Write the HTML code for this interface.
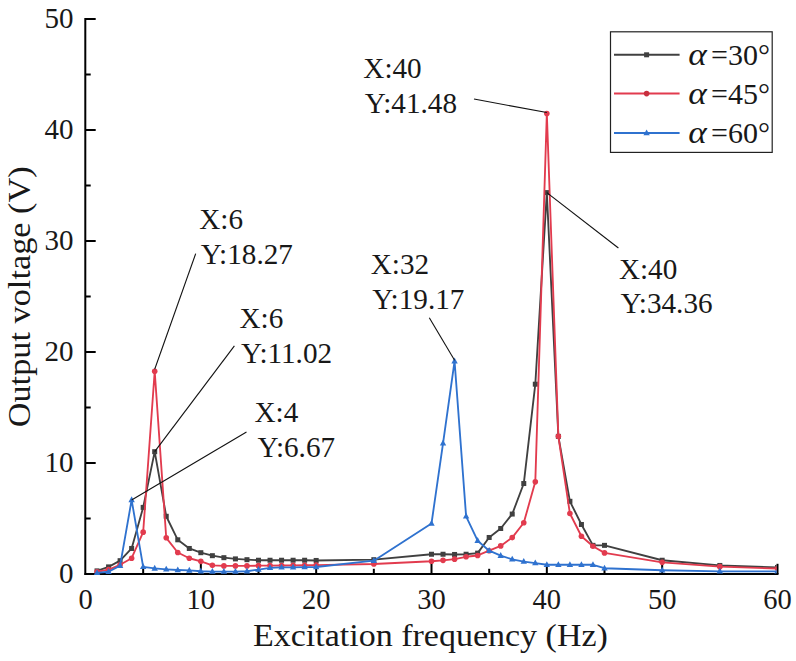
<!DOCTYPE html>
<html><head><meta charset="utf-8"><title>chart</title>
<style>html,body{margin:0;padding:0;background:#fff;}svg{display:block;}text{font-family:"Liberation Serif",serif;fill:#181818;}</style>
</head><body>
<svg width="796" height="661" viewBox="0 0 796 661">
<rect x="0" y="0" width="796" height="661" fill="#ffffff"/>
<g stroke="#000000" stroke-width="2" fill="none" stroke-linecap="butt">
<line x1="85.30" y1="18.00" x2="85.30" y2="575.00"/>
<line x1="84.50" y1="574.00" x2="778.50" y2="574.00"/>
<line x1="143.17" y1="574.00" x2="143.17" y2="568.80"/>
<line x1="200.83" y1="574.00" x2="200.83" y2="563.80"/>
<line x1="258.50" y1="574.00" x2="258.50" y2="568.80"/>
<line x1="316.17" y1="574.00" x2="316.17" y2="563.80"/>
<line x1="373.83" y1="574.00" x2="373.83" y2="568.80"/>
<line x1="431.50" y1="574.00" x2="431.50" y2="563.80"/>
<line x1="489.17" y1="574.00" x2="489.17" y2="568.80"/>
<line x1="546.83" y1="574.00" x2="546.83" y2="563.80"/>
<line x1="604.50" y1="574.00" x2="604.50" y2="568.80"/>
<line x1="662.17" y1="574.00" x2="662.17" y2="563.80"/>
<line x1="719.83" y1="574.00" x2="719.83" y2="568.80"/>
<line x1="777.50" y1="574.00" x2="777.50" y2="563.80"/>
<line x1="85.30" y1="518.50" x2="90.70" y2="518.50"/>
<line x1="85.30" y1="463.00" x2="95.70" y2="463.00"/>
<line x1="85.30" y1="407.50" x2="90.70" y2="407.50"/>
<line x1="85.30" y1="352.00" x2="95.70" y2="352.00"/>
<line x1="85.30" y1="296.50" x2="90.70" y2="296.50"/>
<line x1="85.30" y1="241.00" x2="95.70" y2="241.00"/>
<line x1="85.30" y1="185.50" x2="90.70" y2="185.50"/>
<line x1="85.30" y1="130.00" x2="95.70" y2="130.00"/>
<line x1="85.30" y1="74.50" x2="90.70" y2="74.50"/>
<line x1="85.30" y1="19.00" x2="95.70" y2="19.00"/>
</g>
<defs><clipPath id="pc"><rect x="85.50" y="0" width="691.00" height="575.00"/></clipPath></defs>
<g clip-path="url(#pc)">
<polyline points="97.03,570.89 108.57,566.90 120.10,560.68 131.63,548.47 143.17,507.40 154.70,451.68 166.23,516.28 177.77,539.81 189.30,548.47 200.83,552.69 212.37,555.68 223.90,557.68 235.43,558.90 246.97,559.68 258.50,560.24 270.03,560.24 281.57,560.24 293.10,560.24 304.63,560.24 316.17,560.46 373.83,559.68 431.50,554.24 443.03,554.24 454.57,554.46 466.10,554.24 477.63,553.13 489.17,537.48 500.70,528.49 512.23,514.06 523.77,483.53 535.30,384.19 546.83,192.60 558.37,436.36 569.90,501.30 581.43,524.49 592.97,545.36 604.50,545.36 662.17,560.24 719.83,565.45 777.50,567.45" fill="none" stroke="#404040" stroke-width="1.85" stroke-linejoin="round" stroke-linecap="round"/>
<rect x="94.53" y="568.39" width="5" height="5" fill="#404040"/>
<rect x="106.07" y="564.40" width="5" height="5" fill="#404040"/>
<rect x="117.60" y="558.18" width="5" height="5" fill="#404040"/>
<rect x="129.13" y="545.97" width="5" height="5" fill="#404040"/>
<rect x="140.67" y="504.90" width="5" height="5" fill="#404040"/>
<rect x="152.20" y="449.18" width="5" height="5" fill="#404040"/>
<rect x="163.73" y="513.78" width="5" height="5" fill="#404040"/>
<rect x="175.27" y="537.31" width="5" height="5" fill="#404040"/>
<rect x="186.80" y="545.97" width="5" height="5" fill="#404040"/>
<rect x="198.33" y="550.19" width="5" height="5" fill="#404040"/>
<rect x="209.87" y="553.18" width="5" height="5" fill="#404040"/>
<rect x="221.40" y="555.18" width="5" height="5" fill="#404040"/>
<rect x="232.93" y="556.40" width="5" height="5" fill="#404040"/>
<rect x="244.47" y="557.18" width="5" height="5" fill="#404040"/>
<rect x="256.00" y="557.74" width="5" height="5" fill="#404040"/>
<rect x="267.53" y="557.74" width="5" height="5" fill="#404040"/>
<rect x="279.07" y="557.74" width="5" height="5" fill="#404040"/>
<rect x="290.60" y="557.74" width="5" height="5" fill="#404040"/>
<rect x="302.13" y="557.74" width="5" height="5" fill="#404040"/>
<rect x="313.67" y="557.96" width="5" height="5" fill="#404040"/>
<rect x="371.33" y="557.18" width="5" height="5" fill="#404040"/>
<rect x="429.00" y="551.74" width="5" height="5" fill="#404040"/>
<rect x="440.53" y="551.74" width="5" height="5" fill="#404040"/>
<rect x="452.07" y="551.96" width="5" height="5" fill="#404040"/>
<rect x="463.60" y="551.74" width="5" height="5" fill="#404040"/>
<rect x="475.13" y="550.63" width="5" height="5" fill="#404040"/>
<rect x="486.67" y="534.98" width="5" height="5" fill="#404040"/>
<rect x="498.20" y="525.99" width="5" height="5" fill="#404040"/>
<rect x="509.73" y="511.56" width="5" height="5" fill="#404040"/>
<rect x="521.27" y="481.03" width="5" height="5" fill="#404040"/>
<rect x="532.80" y="381.69" width="5" height="5" fill="#404040"/>
<rect x="544.33" y="190.10" width="5" height="5" fill="#404040"/>
<rect x="555.87" y="433.86" width="5" height="5" fill="#404040"/>
<rect x="567.40" y="498.80" width="5" height="5" fill="#404040"/>
<rect x="578.93" y="521.99" width="5" height="5" fill="#404040"/>
<rect x="590.47" y="542.86" width="5" height="5" fill="#404040"/>
<rect x="602.00" y="542.86" width="5" height="5" fill="#404040"/>
<rect x="659.67" y="557.74" width="5" height="5" fill="#404040"/>
<rect x="717.33" y="562.95" width="5" height="5" fill="#404040"/>
<rect x="775.00" y="564.95" width="5" height="5" fill="#404040"/>
<polyline points="97.03,571.78 108.57,569.56 120.10,564.79 131.63,558.24 143.17,532.15 154.70,371.20 166.23,537.81 177.77,552.47 189.30,558.24 200.83,561.35 212.37,565.34 223.90,565.90 235.43,565.90 246.97,565.90 258.50,565.67 270.03,565.56 281.57,565.45 293.10,565.34 304.63,565.23 316.17,565.12 373.83,564.01 431.50,561.24 443.03,560.35 454.57,559.13 466.10,556.79 477.63,555.46 489.17,550.69 500.70,545.92 512.23,537.59 523.77,522.72 535.30,481.87 546.83,113.57 558.37,436.36 569.90,513.50 581.43,536.26 592.97,546.25 604.50,552.91 662.17,562.35 719.83,566.67 777.50,568.56" fill="none" stroke="#e23b4e" stroke-width="1.85" stroke-linejoin="round" stroke-linecap="round"/>
<circle cx="97.03" cy="571.78" r="2.8" fill="#e23b4e"/>
<circle cx="108.57" cy="569.56" r="2.8" fill="#e23b4e"/>
<circle cx="120.10" cy="564.79" r="2.8" fill="#e23b4e"/>
<circle cx="131.63" cy="558.24" r="2.8" fill="#e23b4e"/>
<circle cx="143.17" cy="532.15" r="2.8" fill="#e23b4e"/>
<circle cx="154.70" cy="371.20" r="2.8" fill="#e23b4e"/>
<circle cx="166.23" cy="537.81" r="2.8" fill="#e23b4e"/>
<circle cx="177.77" cy="552.47" r="2.8" fill="#e23b4e"/>
<circle cx="189.30" cy="558.24" r="2.8" fill="#e23b4e"/>
<circle cx="200.83" cy="561.35" r="2.8" fill="#e23b4e"/>
<circle cx="212.37" cy="565.34" r="2.8" fill="#e23b4e"/>
<circle cx="223.90" cy="565.90" r="2.8" fill="#e23b4e"/>
<circle cx="235.43" cy="565.90" r="2.8" fill="#e23b4e"/>
<circle cx="246.97" cy="565.90" r="2.8" fill="#e23b4e"/>
<circle cx="258.50" cy="565.67" r="2.8" fill="#e23b4e"/>
<circle cx="270.03" cy="565.56" r="2.8" fill="#e23b4e"/>
<circle cx="281.57" cy="565.45" r="2.8" fill="#e23b4e"/>
<circle cx="293.10" cy="565.34" r="2.8" fill="#e23b4e"/>
<circle cx="304.63" cy="565.23" r="2.8" fill="#e23b4e"/>
<circle cx="316.17" cy="565.12" r="2.8" fill="#e23b4e"/>
<circle cx="373.83" cy="564.01" r="2.8" fill="#e23b4e"/>
<circle cx="431.50" cy="561.24" r="2.8" fill="#e23b4e"/>
<circle cx="443.03" cy="560.35" r="2.8" fill="#e23b4e"/>
<circle cx="454.57" cy="559.13" r="2.8" fill="#e23b4e"/>
<circle cx="466.10" cy="556.79" r="2.8" fill="#e23b4e"/>
<circle cx="477.63" cy="555.46" r="2.8" fill="#e23b4e"/>
<circle cx="489.17" cy="550.69" r="2.8" fill="#e23b4e"/>
<circle cx="500.70" cy="545.92" r="2.8" fill="#e23b4e"/>
<circle cx="512.23" cy="537.59" r="2.8" fill="#e23b4e"/>
<circle cx="523.77" cy="522.72" r="2.8" fill="#e23b4e"/>
<circle cx="535.30" cy="481.87" r="2.8" fill="#e23b4e"/>
<circle cx="546.83" cy="113.57" r="2.8" fill="#e23b4e"/>
<circle cx="558.37" cy="436.36" r="2.8" fill="#e23b4e"/>
<circle cx="569.90" cy="513.50" r="2.8" fill="#e23b4e"/>
<circle cx="581.43" cy="536.26" r="2.8" fill="#e23b4e"/>
<circle cx="592.97" cy="546.25" r="2.8" fill="#e23b4e"/>
<circle cx="604.50" cy="552.91" r="2.8" fill="#e23b4e"/>
<circle cx="662.17" cy="562.35" r="2.8" fill="#e23b4e"/>
<circle cx="719.83" cy="566.67" r="2.8" fill="#e23b4e"/>
<circle cx="777.50" cy="568.56" r="2.8" fill="#e23b4e"/>
<polyline points="97.03,572.89 108.57,571.78 120.10,565.67 131.63,499.96 143.17,566.90 154.70,568.45 166.23,569.34 177.77,570.00 189.30,570.45 200.83,571.23 212.37,571.56 223.90,571.56 235.43,571.56 246.97,571.23 258.50,569.56 270.03,567.89 281.57,567.34 293.10,567.34 304.63,567.12 316.17,567.01 373.83,560.68 431.50,523.50 443.03,443.35 454.57,361.21 466.10,516.28 477.63,540.70 489.17,550.69 500.70,555.68 512.23,559.35 523.77,561.57 535.30,563.12 546.83,564.79 558.37,564.79 569.90,564.79 581.43,564.79 592.97,564.79 604.50,568.23 662.17,570.23 719.83,571.34 777.50,571.34" fill="none" stroke="#2f72cf" stroke-width="1.85" stroke-linejoin="round" stroke-linecap="round"/>
<polygon points="97.03,569.29 93.83,575.09 100.23,575.09" fill="#2f72cf"/>
<polygon points="108.57,568.18 105.37,573.98 111.77,573.98" fill="#2f72cf"/>
<polygon points="120.10,562.07 116.90,567.88 123.30,567.88" fill="#2f72cf"/>
<polygon points="131.63,496.36 128.43,502.16 134.83,502.16" fill="#2f72cf"/>
<polygon points="143.17,563.30 139.97,569.10 146.37,569.10" fill="#2f72cf"/>
<polygon points="154.70,564.85 151.50,570.65 157.90,570.65" fill="#2f72cf"/>
<polygon points="166.23,565.74 163.03,571.54 169.43,571.54" fill="#2f72cf"/>
<polygon points="177.77,566.40 174.57,572.20 180.97,572.20" fill="#2f72cf"/>
<polygon points="189.30,566.85 186.10,572.65 192.50,572.65" fill="#2f72cf"/>
<polygon points="200.83,567.62 197.63,573.43 204.03,573.43" fill="#2f72cf"/>
<polygon points="212.37,567.96 209.17,573.76 215.57,573.76" fill="#2f72cf"/>
<polygon points="223.90,567.96 220.70,573.76 227.10,573.76" fill="#2f72cf"/>
<polygon points="235.43,567.96 232.23,573.76 238.63,573.76" fill="#2f72cf"/>
<polygon points="246.97,567.62 243.77,573.43 250.17,573.43" fill="#2f72cf"/>
<polygon points="258.50,565.96 255.30,571.76 261.70,571.76" fill="#2f72cf"/>
<polygon points="270.03,564.29 266.83,570.10 273.23,570.10" fill="#2f72cf"/>
<polygon points="281.57,563.74 278.37,569.54 284.77,569.54" fill="#2f72cf"/>
<polygon points="293.10,563.74 289.90,569.54 296.30,569.54" fill="#2f72cf"/>
<polygon points="304.63,563.52 301.43,569.32 307.83,569.32" fill="#2f72cf"/>
<polygon points="316.17,563.41 312.97,569.21 319.37,569.21" fill="#2f72cf"/>
<polygon points="373.83,557.08 370.63,562.88 377.03,562.88" fill="#2f72cf"/>
<polygon points="431.50,519.89 428.30,525.70 434.70,525.70" fill="#2f72cf"/>
<polygon points="443.03,439.75 439.83,445.55 446.23,445.55" fill="#2f72cf"/>
<polygon points="454.57,357.61 451.37,363.41 457.77,363.41" fill="#2f72cf"/>
<polygon points="466.10,512.68 462.90,518.48 469.30,518.48" fill="#2f72cf"/>
<polygon points="477.63,537.10 474.43,542.90 480.83,542.90" fill="#2f72cf"/>
<polygon points="489.17,547.09 485.97,552.89 492.37,552.89" fill="#2f72cf"/>
<polygon points="500.70,552.08 497.50,557.88 503.90,557.88" fill="#2f72cf"/>
<polygon points="512.23,555.75 509.03,561.55 515.43,561.55" fill="#2f72cf"/>
<polygon points="523.77,557.97 520.57,563.77 526.97,563.77" fill="#2f72cf"/>
<polygon points="535.30,559.52 532.10,565.32 538.50,565.32" fill="#2f72cf"/>
<polygon points="546.83,561.19 543.63,566.99 550.03,566.99" fill="#2f72cf"/>
<polygon points="558.37,561.19 555.17,566.99 561.57,566.99" fill="#2f72cf"/>
<polygon points="569.90,561.19 566.70,566.99 573.10,566.99" fill="#2f72cf"/>
<polygon points="581.43,561.19 578.23,566.99 584.63,566.99" fill="#2f72cf"/>
<polygon points="592.97,561.19 589.77,566.99 596.17,566.99" fill="#2f72cf"/>
<polygon points="604.50,564.63 601.30,570.43 607.70,570.43" fill="#2f72cf"/>
<polygon points="662.17,566.63 658.97,572.43 665.37,572.43" fill="#2f72cf"/>
<polygon points="719.83,567.74 716.63,573.54 723.03,573.54" fill="#2f72cf"/>
<polygon points="777.50,567.74 774.30,573.54 780.70,573.54" fill="#2f72cf"/>
</g>
<text x="85.50" y="608.60" font-size="28.5" text-anchor="middle">0</text>
<text x="200.83" y="608.60" font-size="28.5" text-anchor="middle">10</text>
<text x="316.17" y="608.60" font-size="28.5" text-anchor="middle">20</text>
<text x="431.50" y="608.60" font-size="28.5" text-anchor="middle">30</text>
<text x="546.83" y="608.60" font-size="28.5" text-anchor="middle">40</text>
<text x="662.17" y="608.60" font-size="28.5" text-anchor="middle">50</text>
<text x="777.50" y="608.60" font-size="28.5" text-anchor="middle">60</text>
<text x="73.40" y="582.60" font-size="29.0" text-anchor="end">0</text>
<text x="73.40" y="471.60" font-size="29.0" text-anchor="end">10</text>
<text x="73.40" y="360.60" font-size="29.0" text-anchor="end">20</text>
<text x="73.40" y="249.60" font-size="29.0" text-anchor="end">30</text>
<text x="73.40" y="138.60" font-size="29.0" text-anchor="end">40</text>
<text x="73.40" y="27.60" font-size="29.0" text-anchor="end">50</text>
<text x="430.4" y="646.0" font-size="31" text-anchor="middle" textLength="355" lengthAdjust="spacingAndGlyphs">Excitation frequency (Hz)</text>
<text transform="translate(29.5,296.8) rotate(-90)" font-size="31" text-anchor="middle" textLength="261" lengthAdjust="spacingAndGlyphs">Output voltage (V)</text>
<text x="199.2" y="228.8" font-size="29.2">X:6</text>
<text x="200.7" y="263.6" font-size="29.2">Y:18.27</text>
<text x="239.5" y="327.8" font-size="29.2">X:6</text>
<text x="241.0" y="363.4" font-size="29.2">Y:11.02</text>
<text x="254.5" y="422.0" font-size="29.2">X:4</text>
<text x="257.5" y="457.0" font-size="29.2">Y:6.67</text>
<text x="370.7" y="273.9" font-size="29.2">X:32</text>
<text x="372.2" y="308.8" font-size="29.2">Y:19.17</text>
<text x="363.3" y="78.2" font-size="29.2">X:40</text>
<text x="364.8" y="112.9" font-size="29.2">Y:41.48</text>
<text x="618.9" y="278.5" font-size="29.2">X:40</text>
<text x="620.4" y="313.3" font-size="29.2">Y:34.36</text>
<g stroke="#111" stroke-width="1.1" fill="none">
<line x1="195.70" y1="253.60" x2="154.70" y2="369.20"/>
<line x1="234.40" y1="345.90" x2="154.70" y2="451.68"/>
<line x1="246.50" y1="432.00" x2="131.63" y2="499.96"/>
<line x1="429.30" y1="317.80" x2="454.57" y2="360.21"/>
<line x1="474.00" y1="99.00" x2="546.83" y2="112.57"/>
<line x1="618.40" y1="248.00" x2="546.83" y2="192.60"/>
</g>
<rect x="610.5" y="31.8" width="161.7" height="120.6" fill="#ffffff" stroke="#222" stroke-width="1.2"/>
<line x1="614" y1="54.8" x2="679.6" y2="54.8" stroke="#404040" stroke-width="2"/>
<line x1="614" y1="93.6" x2="679.6" y2="93.6" stroke="#e23b4e" stroke-width="2"/>
<line x1="614" y1="133.0" x2="679.6" y2="133.0" stroke="#2f72cf" stroke-width="2"/>
<rect x="644.10" y="52.30" width="5" height="5" fill="#404040"/>
<circle cx="646.60" cy="93.60" r="2.8" fill="#c8303f"/>
<polygon points="646.60,129.40 643.40,135.20 649.80,135.20" fill="#2f72cf"/>
<text transform="translate(688.2,65.0) scale(1.1,1)" font-size="32" font-style="italic">α</text>
<text x="711.1" y="65.0" font-size="30">=30°</text>
<text transform="translate(688.2,103.8) scale(1.1,1)" font-size="32" font-style="italic">α</text>
<text x="711.1" y="103.8" font-size="30">=45°</text>
<text transform="translate(688.2,143.2) scale(1.1,1)" font-size="32" font-style="italic">α</text>
<text x="711.1" y="143.2" font-size="30">=60°</text>
</svg>
</body></html>
